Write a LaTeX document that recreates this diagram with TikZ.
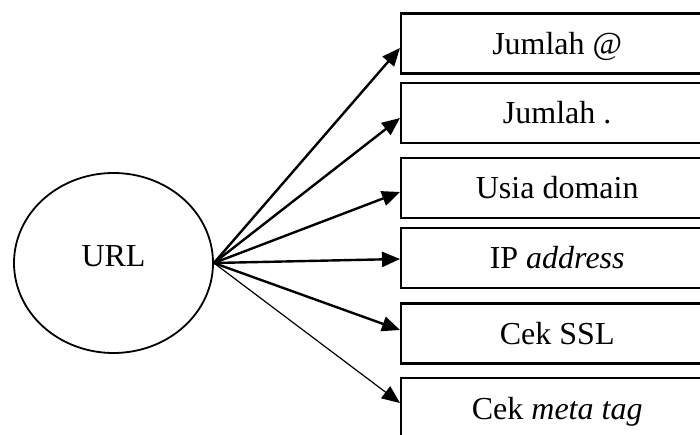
\documentclass[tikz,border=0pt]{standalone}
\usepackage{fontspec}
\setmainfont{Liberation Serif}
\usetikzlibrary{arrows.meta,shapes.geometric}
\begin{document}
\begin{tikzpicture}[x=1pt,y=-1pt,
  featbox/.style={draw, line width=2.4pt, rectangle, minimum width=312pt,
    minimum height=60pt, anchor=west, inner sep=0pt,
    text height=22pt, text depth=0pt,
    font=\fontsize{32}{38}\selectfont},
  link/.style={line width=2.4pt, -{Triangle[length=18pt,width=15pt]}},
  thinlink/.style={line width=1.2pt, -{Triangle[length=18pt,width=15pt]}}]
  \useasboundingbox (0,0) rectangle (700,435);
  \clip (0,0) rectangle (700,435);

  % source ellipse
  \node[draw, ellipse, line width=1.8pt, minimum width=199pt,
        minimum height=180pt, inner sep=0pt] (url) at (113.5,263) {};
  \node[font=\fontsize{32}{38}\selectfont, text height=22pt, text depth=0pt,
        inner sep=0pt] (urltext) at (113.5,255.5) {URL};

  % feature boxes
  \node[featbox] (b1) at (400,43.5) {Jumlah @};
  \node[featbox] (b2) at (400,113)  {Jumlah .};
  \node[featbox] (b3) at (400,188)  {Usia domain};
  \node[featbox] (b4) at (400,258)  {IP \textit{address}};
  \node[featbox] (b5) at (400,333.5){Cek SSL};
  \node[featbox] (b6) at (400,408)  {Cek \textit{meta tag}};

  % connectors
  \draw[link] (url.east) -- ([yshift=-4.5pt]b1.west);
  \draw[link] (url.east) -- ([yshift=-5pt]b2.west);
  \draw[link] (url.east) -- ([yshift=-4pt]b3.west);
  \draw[link] (url.east) -- ([yshift=-1pt]b4.west);
  \draw[link] (url.east) -- ([yshift=3.5pt]b5.west);
  \draw[thinlink] (url.east) -- ([yshift=5pt]b6.west);
\end{tikzpicture}
\end{document}
